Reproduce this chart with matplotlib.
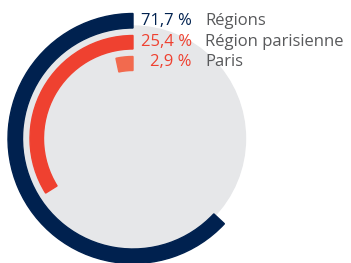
import matplotlib.pyplot as plt
from matplotlib.patches import Wedge, Circle

# data
labels = ["Régions", "Région parisienne", "Paris"]
values = [71.7, 25.4, 2.9]
# arc length drawn in the original (degrees, not proportional to values)
arc_deg = [227, 122, 12]
colors = ["#00214f", "#ef4130", "#f26a4e"]
value_colors = ["#00214f", "#ef4130", "#ef4130"]

plt.rcParams['font.family'] = ['Open Sans', 'DejaVu Sans']

fig = plt.figure(figsize=(3.51, 2.63), dpi=100)
ax = fig.add_axes([0, 0, 1, 1])
ax.set_xlim(0, 351)
ax.set_ylim(0, 263)
ax.set_aspect('equal')
ax.axis('off')

cx, cy = 133, 124.5
ax.add_patch(Circle((cx, cy), 112.5, color="#e6e7e9", zorder=1))

r_outer = [125, 103, 82]
width = [14.5, 13.5, 14]
for a, ro, w, c in zip(arc_deg, r_outer, width, colors):
    ax.add_patch(Wedge((cx, cy), ro, 90, 90 + a, width=w, color=c, zorder=2))

row_y = [242, 221.5, 201]
for lab, v, vc, y in zip(labels, values, value_colors, row_y):
    ax.text(192, y, f"{v:.1f} %".replace(".", ","), color=vc, fontsize=12,
            ha='right', va='center', zorder=3)
    ax.text(205, y, lab, color="#58595b", fontsize=12, ha='left', va='center', zorder=3)

plt.savefig('out.png', dpi=100)
plt.close()
